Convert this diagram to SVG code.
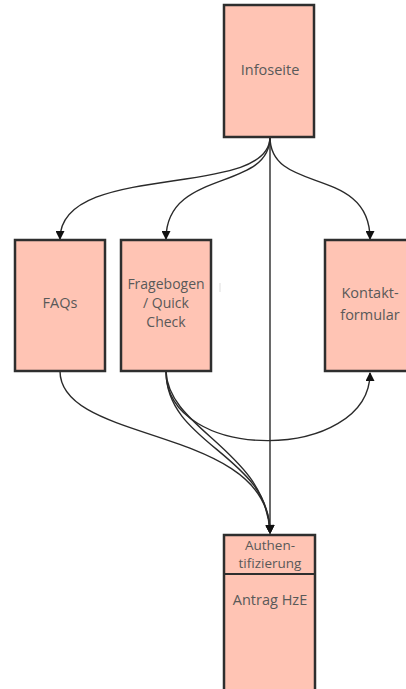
<svg xmlns="http://www.w3.org/2000/svg" width="406" height="689" viewBox="0 0 406 689">
  <defs>
    <style>
      .box { fill: #ffc4b4; stroke: #2e2e2e; stroke-width: 2.5; }
      .lbl { font-family: "Open Sans", "Noto Sans", sans-serif; font-size: 14.5px; fill: #595959; text-anchor: middle; }
      .sm { font-size: 14px; }
      .xs { font-size: 13.5px; }
      .edge { fill: none; stroke: #2a2a2a; stroke-width: 1.4; }
    </style>
    <marker id="arrow" viewBox="0 0 10 10" refX="9" refY="5" markerWidth="12" markerHeight="9" markerUnits="userSpaceOnUse" orient="auto">
      <path d="M0,0 L10,5 L0,10 Z" fill="#111"/>
    </marker>
  </defs>

  <rect width="406" height="689" fill="#ffffff"/>

  <g id="connectors">
    <!-- Infoseite fan-out -->
    <path class="edge" d="M270,137 C270,200 60,160 60,239" marker-end="url(#arrow)"/>
    <path class="edge" d="M270,137 C270,192 166,168 166,239" marker-end="url(#arrow)"/>
    <path class="edge" d="M270,137 C270,195 370,165 370,239" marker-end="url(#arrow)"/>
    <path class="edge" d="M270,137 L270,533" marker-end="url(#arrow)"/>
    <!-- into Antrag / Kontakt from the second row -->
    <path class="edge" d="M60,371 C60,445 270,425 270,533" marker-end="url(#arrow)"/>
    <path class="edge" d="M166,371 C166,445 270,455 270,533" marker-end="url(#arrow)"/>
    <path class="edge" d="M166,371 C168,430 266,450 270,533" marker-end="url(#arrow)"/>
    <path class="edge" d="M166,371 C166,465 370,462 370,373" marker-end="url(#arrow)"/>
  </g>

  <g id="infoseite">
    <rect class="box" x="224" y="5" width="90" height="132"/>
    <text class="lbl" x="270" y="75">Infoseite</text>
  </g>

  <g id="faqs">
    <rect class="box" x="15" y="240" width="90" height="131"/>
    <text class="lbl" x="60" y="308">FAQs</text>
  </g>

  <g id="fragebogen">
    <rect class="box" x="121" y="240" width="90" height="131"/>
    <text class="lbl sm" x="166" y="289">Fragebogen</text>
    <text class="lbl sm" x="166" y="308">/ Quick</text>
    <text class="lbl sm" x="166" y="327">Check</text>
  </g>

  <line x1="220" y1="283" x2="220" y2="292" stroke="#dddddd" stroke-width="1"/>

  <g id="kontakt">
    <rect class="box" x="325" y="240" width="92" height="131"/>
    <text class="lbl" x="370" y="298">Kontakt-</text>
    <text class="lbl" x="370" y="320">formular</text>
  </g>

  <g id="antrag">
    <rect class="box" x="224" y="535" width="91" height="160"/>
    <line x1="224" y1="574" x2="315" y2="574" stroke="#2e2e2e" stroke-width="2"/>
    <text class="lbl xs" x="270" y="550">Authen-</text>
    <text class="lbl xs" x="270" y="568">tifizierung</text>
    <text class="lbl" x="270" y="605">Antrag HzE</text>
  </g>
</svg>
